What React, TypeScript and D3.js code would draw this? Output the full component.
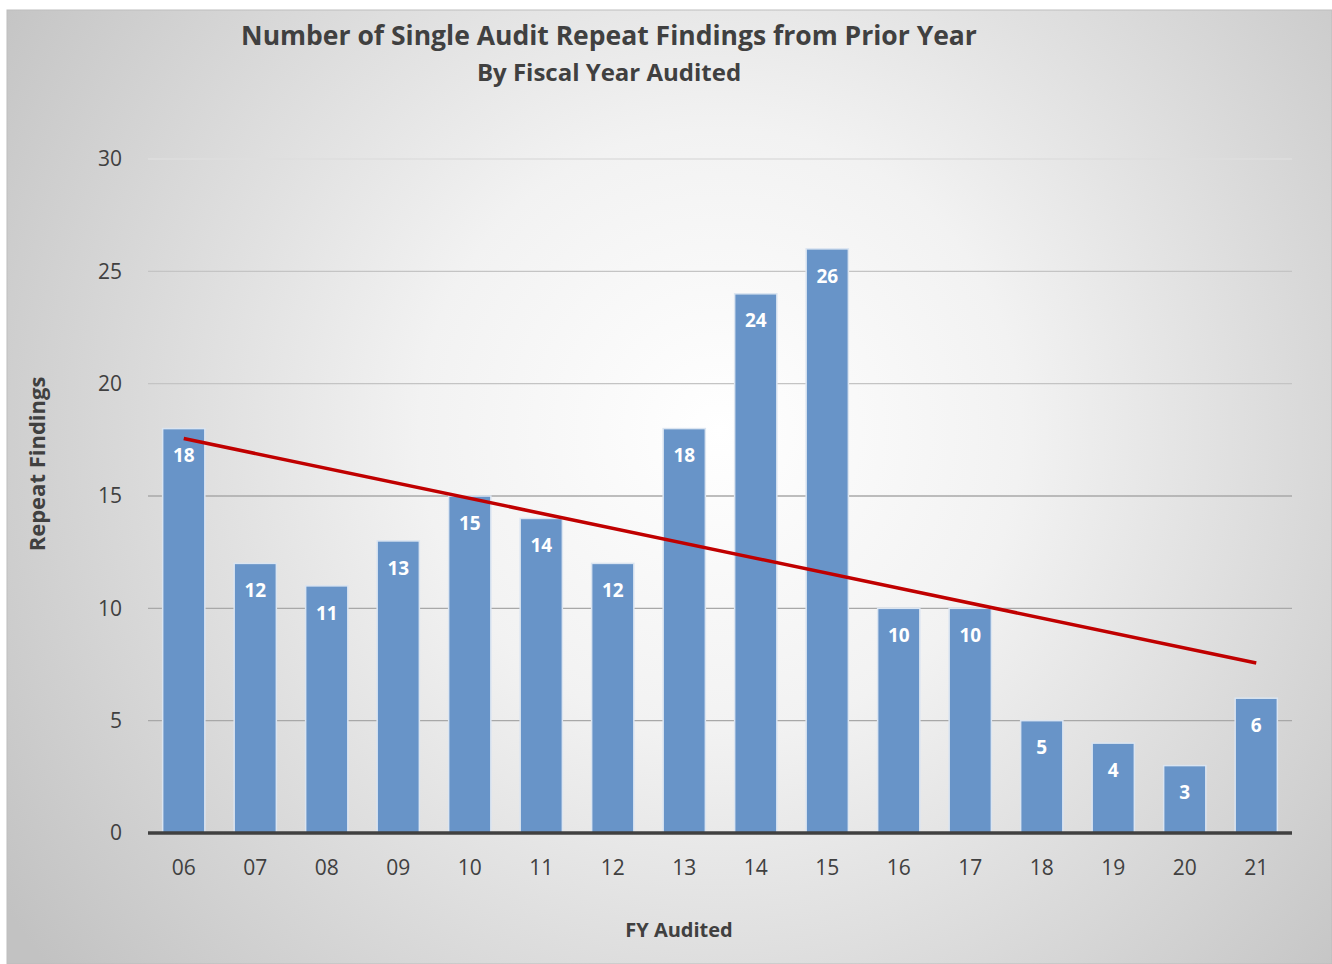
import React, { useRef, useEffect } from 'react';
import * as d3 from 'd3';

const years = ['06', '07', '08', '09', '10', '11', '12', '13', '14', '15', '16', '17', '18', '19', '20', '21'];
const findings = [18, 12, 11, 13, 15, 14, 12, 18, 24, 26, 10, 10, 5, 4, 3, 6];
const yTicks = [0, 5, 10, 15, 20, 25, 30];

const FONT = "'Open Sans', 'Noto Sans', sans-serif";

function App() {
  const svgRef = useRef<SVGSVGElement>(null);

  useEffect(() => {
    const svg = d3.select(svgRef.current);
    svg.selectAll('*').remove();

    const width = 1332;
    const height = 964;
    const margin = { top: 159, right: 40, bottom: 131, left: 148 };

    const defs = svg.append('defs');
    const grad = defs.append('radialGradient')
      .attr('id', 'bg')
      .attr('gradientUnits', 'userSpaceOnUse')
      .attr('cx', 720).attr('cy', 430).attr('r', 860);
    grad.append('stop').attr('offset', '0%').attr('stop-color', '#ffffff');
    grad.append('stop').attr('offset', '35%').attr('stop-color', '#f2f2f2');
    grad.append('stop').attr('offset', '100%').attr('stop-color', '#c2c2c2');

    svg.append('rect')
      .attr('x', 7).attr('y', 10)
      .attr('width', width - 7).attr('height', height - 10)
      .attr('fill', 'url(#bg)')
      .attr('stroke', '#bdbdbd');

    const x = d3.scaleBand()
      .domain(years)
      .range([margin.left, width - margin.right])
      .paddingInner(0.41)
      .paddingOuter(0.205);

    const y = d3.scaleLinear()
      .domain([0, 30])
      .range([height - margin.bottom, margin.top]);

    // gridlines
    svg.append('g')
      .selectAll('line')
      .data(yTicks.filter(d => d > 0))
      .enter()
      .append('line')
      .attr('x1', margin.left)
      .attr('x2', width - margin.right)
      .attr('y1', d => y(d))
      .attr('y2', d => y(d))
      .attr('stroke', d => d === 30 ? '#dedede' : d >= 20 ? '#c4c4c4' : '#a8a8a8')
      .attr('stroke-width', 1.3);

    // y tick labels
    svg.append('g')
      .selectAll('text')
      .data(yTicks)
      .enter()
      .append('text')
      .attr('x', 122)
      .attr('y', d => y(d))
      .attr('dy', '0.35em')
      .attr('text-anchor', 'end')
      .attr('fill', '#404040')
      .style('font-family', FONT)
      .style('font-size', '21px')
      .text(d => d);

    // bars
    svg.append('g')
      .selectAll('rect')
      .data(findings)
      .enter()
      .append('rect')
      .attr('x', (d, i) => x(years[i])!)
      .attr('y', d => y(d))
      .attr('width', x.bandwidth())
      .attr('height', d => y(0) - y(d))
      .attr('fill', '#6894c8')
      .attr('stroke', '#dbe5f1')
      .attr('stroke-width', 1.5);

    // value labels
    svg.append('g')
      .selectAll('text')
      .data(findings)
      .enter()
      .append('text')
      .attr('x', (d, i) => x(years[i])! + x.bandwidth() / 2)
      .attr('y', d => y(d) + 27)
      .attr('dy', '0.35em')
      .attr('text-anchor', 'middle')
      .attr('fill', '#ffffff')
      .style('font-family', FONT)
      .style('font-size', '19px')
      .style('font-weight', 'bold')
      .text(d => d);

    // x axis baseline
    svg.append('line')
      .attr('x1', margin.left)
      .attr('x2', width - margin.right)
      .attr('y1', y(0))
      .attr('y2', y(0))
      .attr('stroke', '#404040')
      .attr('stroke-width', 3.5);

    // x tick labels
    svg.append('g')
      .selectAll('text')
      .data(years)
      .enter()
      .append('text')
      .attr('x', d => x(d)! + x.bandwidth() / 2)
      .attr('y', 868)
      .attr('dy', '0.35em')
      .attr('text-anchor', 'middle')
      .attr('fill', '#404040')
      .style('font-family', FONT)
      .style('font-size', '21px')
      .text(d => d);

    // linear trend line
    const n = findings.length;
    const mx = d3.mean(findings, (d, i) => i)!;
    const my = d3.mean(findings)!;
    const sxy = d3.sum(findings, (d, i) => (i - mx) * (d - my));
    const sxx = d3.sum(findings, (d, i) => (i - mx) * (i - mx));
    const slope = sxy / sxx;
    const icpt = my - slope * mx;
    const trend = [0, n - 1].map(i => [x(years[i])! + x.bandwidth() / 2, y(icpt + slope * i)] as [number, number]);
    svg.append('path')
      .attr('d', d3.line()(trend))
      .attr('fill', 'none')
      .attr('stroke', '#c00000')
      .attr('stroke-width', 3.5);

    // titles
    svg.append('text')
      .attr('x', 609).attr('y', 36)
      .attr('dy', '0.35em')
      .attr('text-anchor', 'middle')
      .attr('fill', '#404040')
      .style('font-family', FONT)
      .style('font-size', '26.5px')
      .style('font-weight', 'bold')
      .text('Number of Single Audit Repeat Findings from Prior Year');

    svg.append('text')
      .attr('x', 609).attr('y', 73)
      .attr('dy', '0.35em')
      .attr('text-anchor', 'middle')
      .attr('fill', '#404040')
      .style('font-family', FONT)
      .style('font-size', '24px')
      .style('font-weight', 'bold')
      .text('By Fiscal Year Audited');

    svg.append('text')
      .attr('x', 679).attr('y', 930)
      .attr('dy', '0.35em')
      .attr('text-anchor', 'middle')
      .attr('fill', '#404040')
      .style('font-family', FONT)
      .style('font-size', '20px')
      .style('font-weight', 'bold')
      .text('FY Audited');

    svg.append('text')
      .attr('transform', 'translate(37, 464) rotate(-90)')
      .attr('dy', '0.35em')
      .attr('text-anchor', 'middle')
      .attr('fill', '#404040')
      .style('font-family', FONT)
      .style('font-size', '22px')
      .style('font-weight', 'bold')
      .text('Repeat Findings');
  }, []);

  return (
    <svg
      ref={svgRef}
      width={1332}
      height={964}
      style={{ position: 'absolute', left: 0, top: 0, display: 'block' }}
    />
  );
}

export default App;
